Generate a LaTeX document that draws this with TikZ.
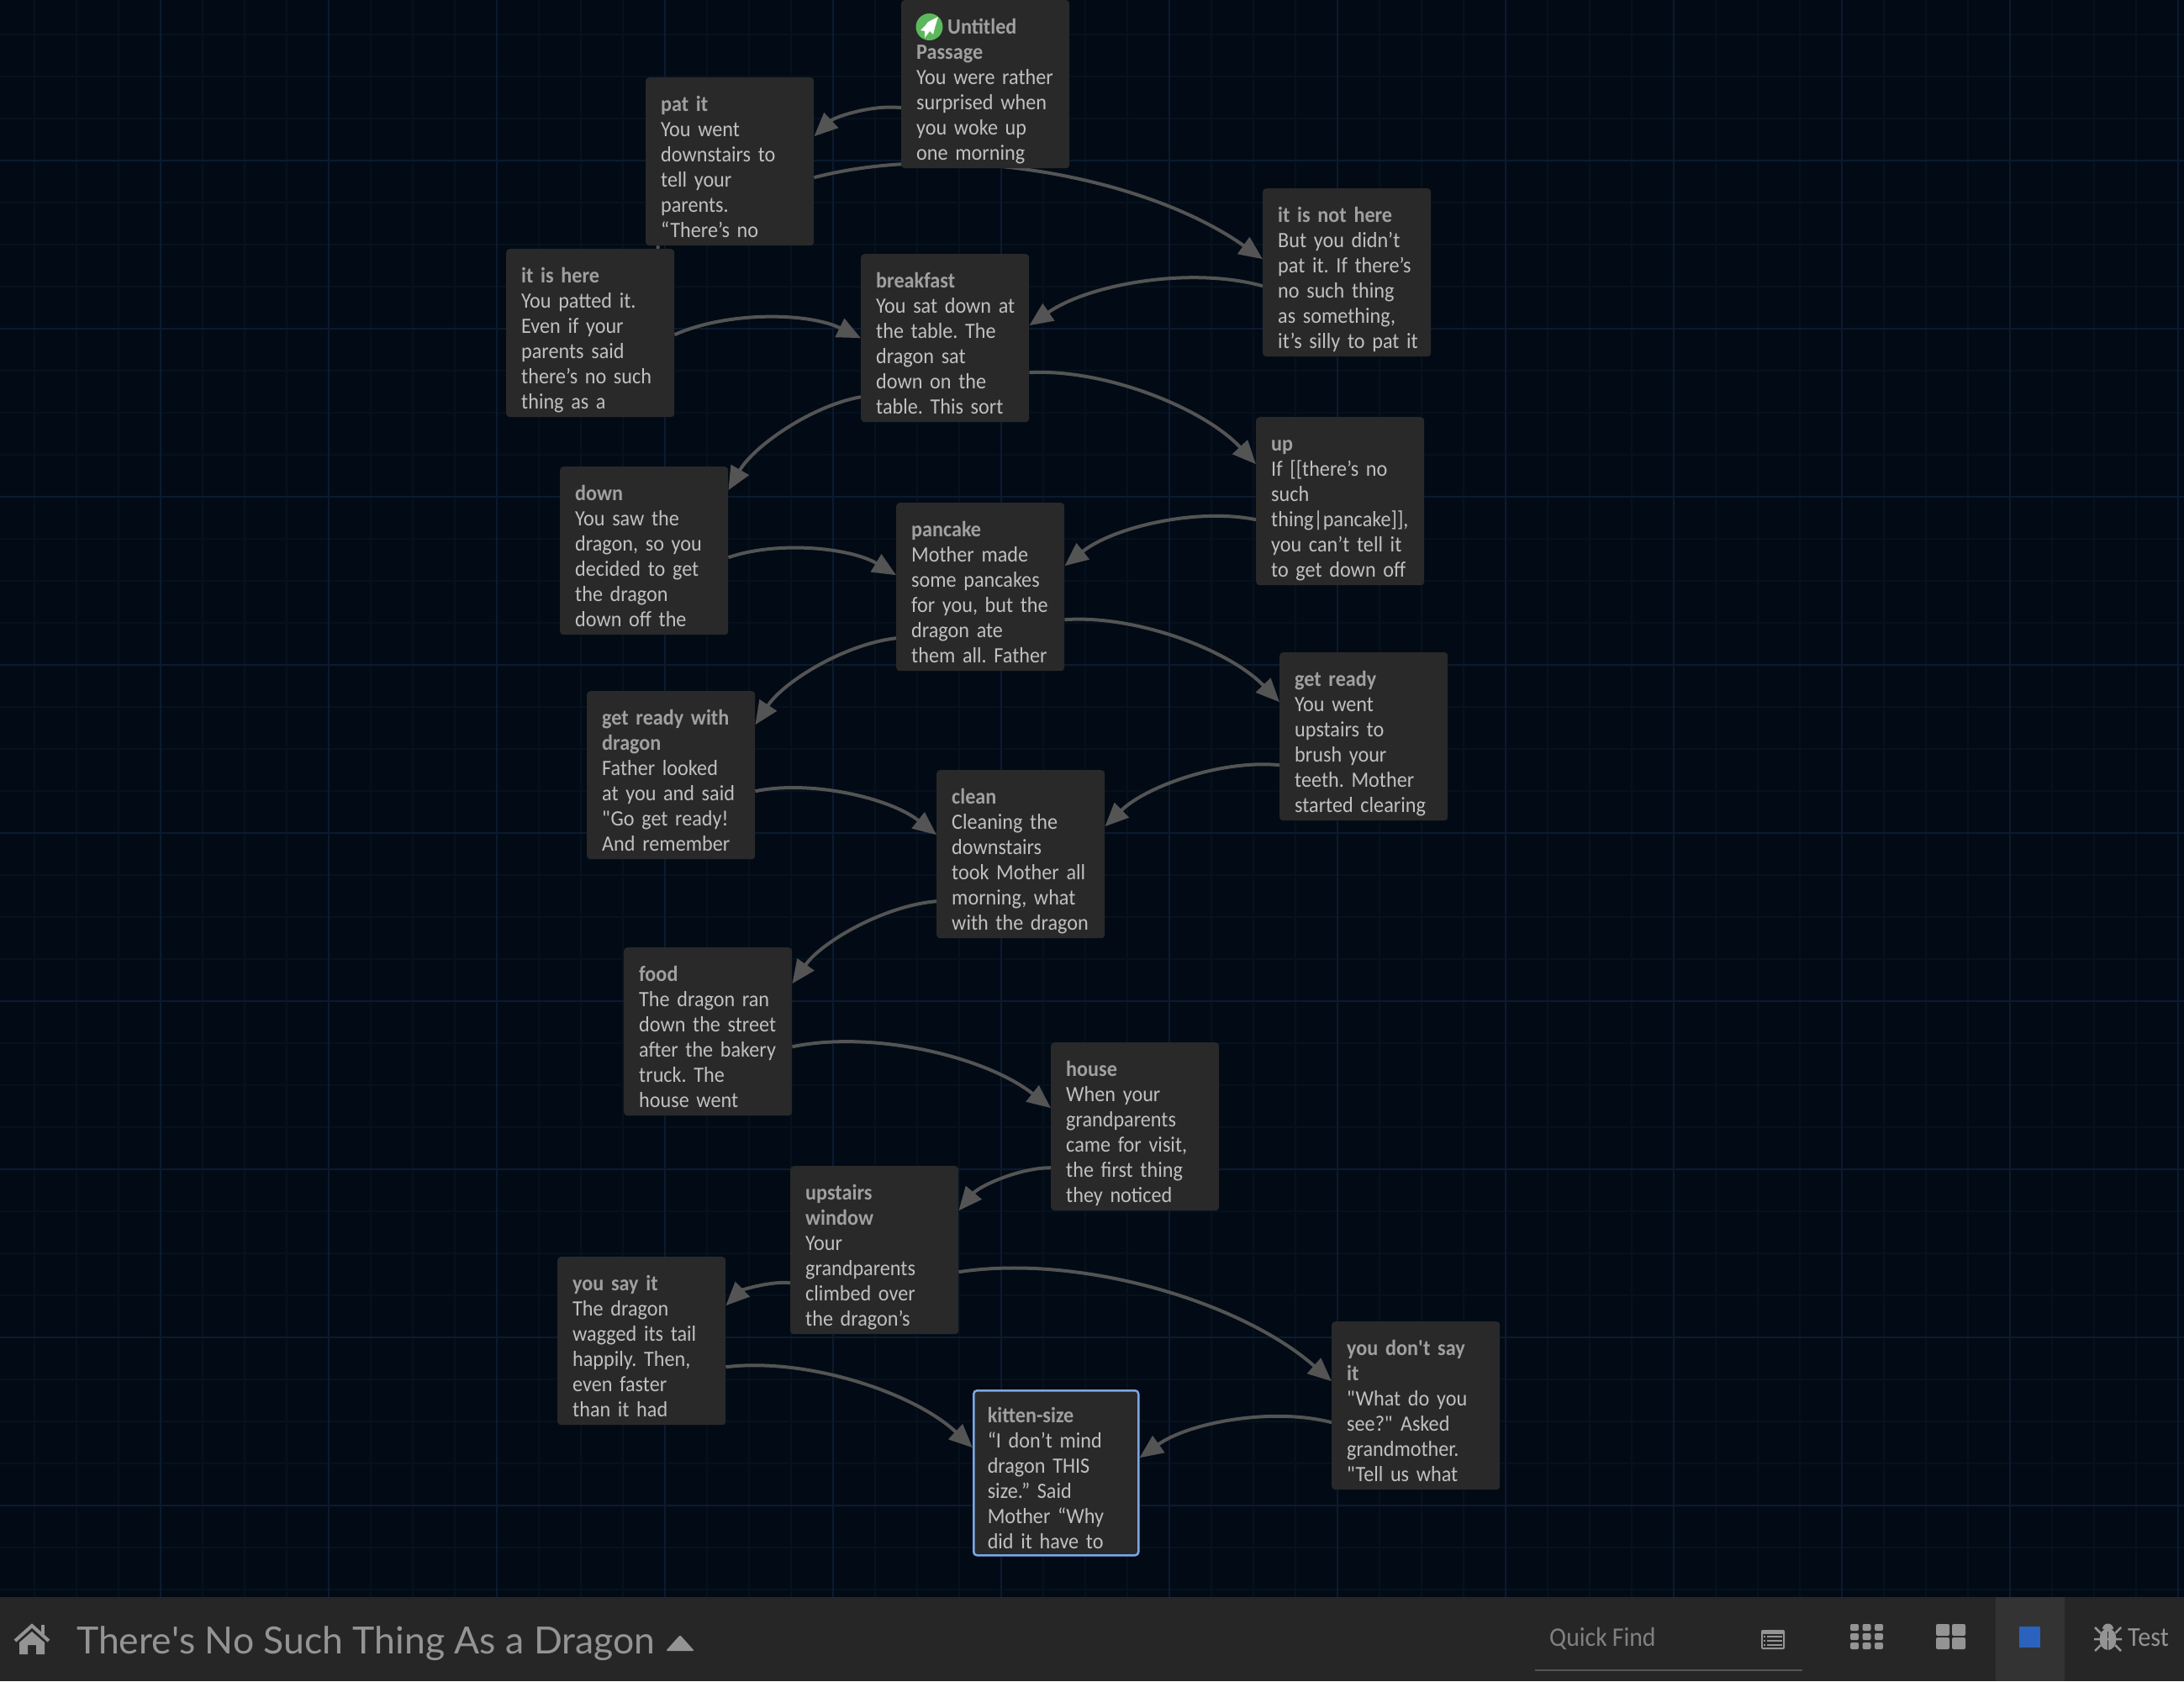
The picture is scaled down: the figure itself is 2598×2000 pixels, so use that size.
\documentclass[tikz,border=0pt]{standalone}
\usepackage{fontspec}
\setmainfont[FakeStretch=0.93,WordSpace=0.9]{Carlito}
\newfontfamily\barfont{Lato}
\usetikzlibrary{positioning, arrows.meta, backgrounds}

\definecolor{pagebg}{HTML}{020B15}
\definecolor{gridminor}{HTML}{06111D}
\definecolor{gridmajor}{HTML}{0B1A30}
\definecolor{cardfill}{HTML}{292929}
\definecolor{bodytext}{HTML}{C0C0C0}
\definecolor{titletext}{HTML}{A0A0A0}
\definecolor{linkgray}{HTML}{545454}
\definecolor{selectblue}{HTML}{7AA7E6}
\definecolor{barfill}{HTML}{262626}
\definecolor{barlit}{HTML}{333333}
\definecolor{icongray}{HTML}{949494}
\definecolor{zoomblue}{HTML}{2A62BD}
\definecolor{rocketgreen}{HTML}{5CB85C}

\newcommand{\cardfont}{\fontsize{26}{30}\selectfont\frenchspacing}
\newcommand{\ttl}[1]{{\bfseries\color{titletext}#1}}

\begin{document}
\begin{tikzpicture}[
  x=1pt, y=-1pt,
  card/.style={rectangle, fill=cardfill, rounded corners=4, anchor=north west, minimum width=200, minimum height=200,
    inner xsep=18, inner ysep=0, text width=164, text height=40, text depth=160, font=\cardfont, text=bodytext,
    execute at begin node={\rightskip=-20pt plus 1fil\hyphenpenalty=10000}},
  selected/.style={draw=selectblue, line width=2.5, minimum width=196, minimum height=196, inner xsep=16.5, text width=163, text height=38.5, text depth=157.5},
  arrow/.style={-{Triangle[length=28, width=24]}, line width=4, draw=linkgray, looseness=0.8},
  barlabel/.style={anchor=base west, inner sep=0, font=\barfont},
]
  \useasboundingbox (0,0) rectangle (2598,2000);

  % Passages
  \node[card] (untitled) at (1072,0) {\ttl{\hspace{37pt}Untitled}\\\ttl{Passage}\\You were rather\\surprised when\\you woke up\\one morning};
  \node[card] (patit) at (768,92) {\ttl{pat it}\\You went\\downstairs to\\tell your\\parents.\\“There’s no};
  \node[card] (ishere) at (602,296) {\ttl{it is here}\\You patted it.\\Even if your\\parents said\\there’s no such\\thing as a};
  \node[card] (breakfast) at (1024,302) {\ttl{breakfast}\\You sat down at\\the table. The\\dragon sat\\down on the\\table. This sort};
  \node[card] (nothere) at (1502,224) {\ttl{it is not here}\\But you didn’t\\pat it. If there’s\\no such thing\\as something,\\it’s silly to pat it};
  \node[card] (down) at (666,555) {\ttl{down}\\You saw the\\dragon, so you\\decided to get\\the dragon\\down off the};
  \node[card] (pancake) at (1066,598) {\ttl{pancake}\\Mother made\\some pancakes\\for you, but the\\dragon ate\\them all. Father};
  \node[card] (up) at (1494,496) {\ttl{up}\\If [[there’s no\\such\\thing|pancake]],\\you can’t tell it\\to get down off};
  \node[card] (withdragon) at (698,822) {\ttl{get ready with}\\\ttl{dragon}\\Father looked\\at you and said\\\textquotedbl Go get ready!\\And remember};
  \node[card] (getready) at (1522,776) {\ttl{get ready}\\You went\\upstairs to\\brush your\\teeth. Mother\\started clearing};
  \node[card] (clean) at (1114,916) {\ttl{clean}\\Cleaning the\\downstairs\\took Mother all\\morning, what\\with the dragon};
  \node[card] (food) at (742,1127) {\ttl{food}\\The dragon ran\\down the street\\after the bakery\\truck. The\\house went};
  \node[card] (house) at (1250,1240) {\ttl{house}\\When your\\grandparents\\came for visit,\\the first thing\\they noticed};
  \node[card] (upstairs) at (940,1387) {\ttl{upstairs}\\\ttl{window}\\Your\\grandparents\\climbed over\\the dragon’s};
  \node[card] (sayit) at (663,1495) {\ttl{you say it}\\The dragon\\wagged its tail\\happily. Then,\\even faster\\than it had};
  \node[card] (nosay) at (1584,1572) {\ttl{you don\textquotesingle t say}\\\ttl{it}\\\textquotedbl What do you\\see?\textquotedbl{} Asked\\grandmother.\\\textquotedbl Tell us what};
  \node[card, selected] (kitten) at (1157,1653) {\ttl{kitten-size}\\“I don’t mind\\dragon THIS\\size.” Said\\Mother “Why\\did it have to};

  \begin{pgfonlayer}{background}
    % Page and grid
    \fill[pagebg] (0,0) rectangle (2598,2000);
    \foreach \gx in {41,91,...,2591} \draw[gridminor, line width=1.5] (\gx,0) -- (\gx,1900);
    \foreach \gy in {41,91,...,1891} \draw[gridminor, line width=1.5] (0,\gy) -- (2598,\gy);
    \foreach \gx in {191,391,...,2591} \draw[gridmajor, line width=2] (\gx,0) -- (\gx,1900);
    \foreach \gy in {191,391,...,1791} \draw[gridmajor, line width=2] (0,\gy) -- (2598,\gy);

    % Links
    \draw[arrow] ([yshift=-28]untitled.west) to[bend right=25] ([yshift=30]patit.east);
    \draw[line width=4, draw=linkgray] ([xshift=-85]patit.south) -- ([xshift=80]ishere.north);
    \draw[arrow] ([yshift=-19]patit.east) to[bend left=25] ([yshift=16]nothere.west);
    \draw[arrow] ([yshift=-16]nothere.west) to[bend right=25] ([yshift=15]breakfast.east);
    \draw[arrow] ([yshift=-2]ishere.east) to[bend left=25] (breakfast.west);
    \draw[arrow] ([yshift=-41]breakfast.east) to[bend left=25] ([yshift=44]up.west);
    \draw[arrow] ([yshift=-70]breakfast.west) to[bend right=25] ([yshift=72]down.east);
    \draw[arrow] ([yshift=-8]down.east) to[bend left=25] ([yshift=14]pancake.west);
    \draw[arrow] ([yshift=-22]up.west) to[bend right=25] ([yshift=25]pancake.east);
    \draw[arrow] ([yshift=-39]pancake.east) to[bend left=25] ([yshift=41]getready.west);
    \draw[arrow] ([yshift=-61]pancake.west) to[bend right=25] ([yshift=60]withdragon.east);
    \draw[arrow] ([yshift=-19]withdragon.east) to[bend left=25] ([yshift=23]clean.west);
    \draw[arrow] ([yshift=-34]getready.west) to[bend right=25] ([yshift=33]clean.east);
    \draw[arrow] ([yshift=-56]clean.west) to[bend right=25] ([yshift=57]food.east);
    \draw[arrow] ([yshift=-18]food.east) to[bend left=25] ([yshift=22]house.west);
    \draw[arrow] ([yshift=-49]house.west) to[bend right=25] ([yshift=47]upstairs.east);
    \draw[arrow] ([yshift=-39]upstairs.west) to[bend right=25] ([yshift=42]sayit.east);
    \draw[arrow] ([yshift=-26]upstairs.east) to[bend left=25] ([yshift=29]nosay.west);
    \draw[arrow] ([yshift=-31]sayit.east) to[bend left=25] ([yshift=30]kitten.west);
    \draw[arrow] ([yshift=-20]nosay.west) to[bend right=25] ([yshift=18]kitten.east);
  \end{pgfonlayer}

  % Start badge
  \fill[rocketgreen] (1105.5,32) circle (16);
  \fill[white] (1116,20) -- (1112,33) -- (1110,41) -- (1106,37) -- (1100,45) -- (1100,37) -- (1095,36) -- (1101,30) -- (1104,26) -- cycle;

  % Bottom bar
  \fill[barfill] (0,1900) rectangle (2598,2000);
  \fill[barlit] (2374,1900) rectangle (2456,2000);
  \node[barlabel, font=\barfont\fontsize{44.5}{50}\selectfont, text=icongray] (storytitle) at (91,1967) {There\textquotesingle s No Such Thing As a Dragon};
  \node[barlabel, font=\fontsize{32}{34}\selectfont, text=gray] (quickfind) at (1843,1958) {Quick Find};
  \node[barlabel, font=\fontsize{32.5}{34}\selectfont, text=icongray] (testlabel) at (2531,1958) {Test};
  \draw[line width=2.5, draw=linkgray] (1826,1987) -- (2144,1987);

  % Home icon
  \draw[icongray, line width=4] (18,1952) -- (38,1934) -- (58,1952);
  \fill[icongray] (49,1933) rectangle (53,1944);
  \fill[icongray] (23,1954) -- (38,1941) -- (53,1954) -- (53,1968) -- (43,1968) -- (43,1957) -- (33,1957) -- (33,1968) -- (23,1968) -- cycle;

  % Story menu triangle
  \fill[icongray, rounded corners=2] (809,1945) -- (826,1964) -- (792,1964) -- cycle;

  % Passage list icon
  \fill[icongray, rounded corners=2] (2095,1939) rectangle (2123,1962);
  \fill[barfill] (2097,1944) rectangle (2121,1960);
  \foreach \ly in {1947,1952,1957} {
    \fill[icongray] (2098,\ly-1) rectangle (2100,\ly+1);
    \fill[icongray] (2102,\ly-1) rectangle (2120,\ly+1);
  }

  % Zoom icons
  \foreach \ix in {0,1,2} \foreach \iy in {0,1,2}
    \fill[icongray, rounded corners=2] (2201+\ix*14.5,1932+\iy*11) rectangle (2211+\ix*14.5,1940+\iy*11);
  \foreach \ix in {0,1} \foreach \iy in {0,1}
    \fill[icongray, rounded corners=2] (2303+\ix*19,1932+\iy*16) rectangle (2319+\ix*19,1946+\iy*16);
  \fill[zoomblue] (2402,1935) rectangle (2427,1960);

  % Bug icon
  \fill[icongray] (2507.5,1950) ellipse (10 and 13);
  \fill[icongray] (2501,1938) arc[start angle=180, end angle=360, radius=6.5];
  \draw[barfill, line width=1.5] (2507.5,1941) -- (2507.5,1964);
  \draw[icongray, line width=2.5] (2492,1936) -- (2499,1943) (2523,1936) -- (2516,1943) (2491,1950) -- (2524,1950) (2492,1964) -- (2499,1957) (2523,1964) -- (2516,1957);
\end{tikzpicture}
\end{document}
